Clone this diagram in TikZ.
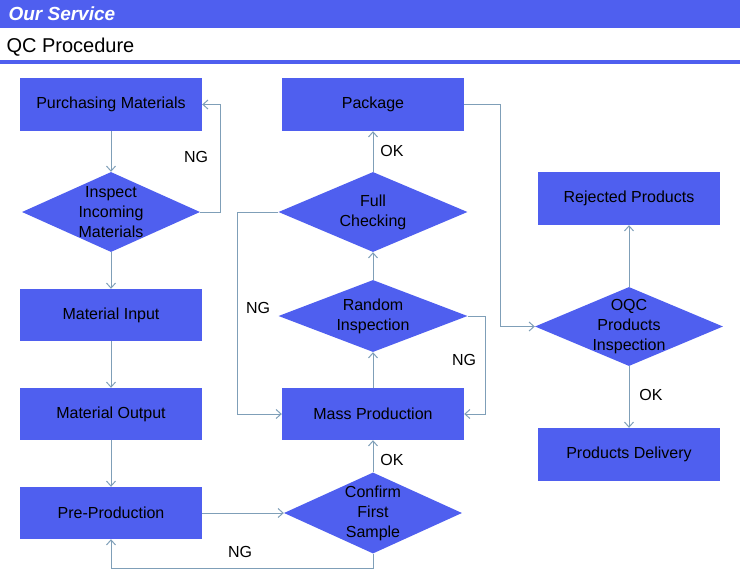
\documentclass[tikz,border=0pt]{standalone}
\usepackage{fontspec}
\setmainfont{Liberation Sans}
\usetikzlibrary{shapes.geometric,arrows.meta}
\definecolor{boxblue}{HTML}{4F5FEF}
\definecolor{linec}{HTML}{7F9FB8}
\begin{document}
\begin{tikzpicture}[x=1pt,y=-1pt,
  box/.style={fill=boxblue,draw=none,minimum width=182pt,minimum height=53pt,inner sep=0pt,font=\fontsize{16}{20}\selectfont,align=center},
  dia/.style={diamond,fill=boxblue,draw=none,aspect=2.35,inner sep=-18pt,minimum width=189pt,minimum height=80pt,font=\fontsize{16}{20}\selectfont,align=center},
  con/.style={draw=linec,line width=1pt,-{Straight Barb[length=5pt,width=9pt]}},
  lab/.style={font=\fontsize{16}{18}\selectfont}]
\useasboundingbox (0,0) rectangle (740,584);
\fill[boxblue] (0,0) rectangle (740,28);
\node[anchor=west,text=white,font=\fontsize{19}{20}\selectfont\bfseries\itshape] (t1) at (5,14) {Our Service};
\node[anchor=west,font=\fontsize{20}{22}\selectfont] (t2) at (3,47) {QC Procedure};
\fill[boxblue] (0,60) rectangle (740,64);
\node[box] (pm) at (111,104.5) {Purchasing Materials};
\node[dia,minimum width=178pt] (iim) at (111,212) {Inspect\\Incoming\\Materials};
\node[box,minimum height=52pt] (mi) at (111,315) {Material Input};
\node[box,minimum height=52pt] (mo) at (111,414) {Material Output};
\node[box,minimum height=52pt] (pp) at (111,513) {Pre-Production};
\node[box] (pk) at (373,104.5) {Package};
\node[dia] (fc) at (373,212) {Full\\Checking};
\node[dia,minimum height=72pt] (ri) at (373,316) {Random\\Inspection};
\node[box,minimum height=52pt] (mp) at (373,414) {Mass Production};
\node[dia,minimum width=178pt,minimum height=81pt] (cfs) at (373,513) {Confirm\\First\\Sample};
\node[box] (rp) at (629,198.5) {Rejected Products};
\node[dia,minimum width=188pt,minimum height=79pt] (oqc) at (629,326.5) {OQC\\Products\\Inspection};
\node[box] (pd) at (629,454.5) {Products Delivery};
\coordinate (c1) at (220,212); \coordinate (c2) at (220,104.5);
\coordinate (c3) at (373,568); \coordinate (c4) at (111,568);
\coordinate (c5) at (485,316); \coordinate (c6) at (485,414);
\coordinate (c7) at (237,212); \coordinate (c8) at (237,414);
\coordinate (c9) at (500,104.5); \coordinate (c10) at (500,326.5);
\draw[con] (pm) -- (iim);
\draw[con] (iim.east) -- (c1) -- (c2) -- (pm.east);
\draw[con] (iim) -- (mi);
\draw[con] (mi) -- (mo);
\draw[con] (mo) -- (pp);
\draw[con] (pp) -- (cfs);
\draw[con] (cfs.south) -- (c3) -- (c4) -- (pp.south);
\draw[con] (cfs) -- (mp);
\draw[con] (mp) -- (ri);
\draw[con] (ri.east) -- (c5) -- (c6) -- (mp.east);
\draw[con] (fc.west) -- (c7) -- (c8) -- (mp.west);
\draw[con] (ri) -- (fc);
\draw[con] (fc) -- (pk);
\draw[con] (pk.east) -- (c9) -- (c10) -- (oqc.west);
\draw[con] (oqc) -- (rp);
\draw[con] (oqc) -- (pd);
\node[lab] (l1) at (196,157) {NG};
\node[lab] (l2) at (240,552) {NG};
\node[lab] (l3) at (392,460) {OK};
\node[lab] (l4) at (464,360) {NG};
\node[lab] (l5) at (258,308) {NG};
\node[lab] (l6) at (392,151) {OK};
\node[lab] (l7) at (651,395) {OK};
\end{tikzpicture}
\end{document}
